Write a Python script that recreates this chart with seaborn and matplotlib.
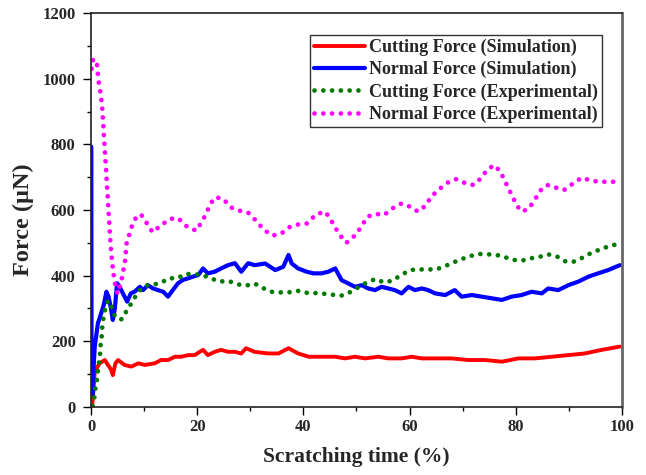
import matplotlib
matplotlib.use("Agg")
import matplotlib.pyplot as plt
import seaborn as sns
from matplotlib.ticker import MultipleLocator

# ---- data ----
cut_sim_x = [0.2, 0.5, 0.7, 1.6, 2.6, 3.2, 3.8, 4.1, 4.6, 5.1, 6.3, 7.6, 8.9, 10.1, 12.0, 13.2, 14.5,
             15.8, 17.0, 18.3, 19.5, 21.1, 22.0, 23.3, 24.5, 25.8, 27.1, 28.3, 29.2, 30.8, 33.4, 35.3,
             37.2, 39.0, 41.0, 43.4, 46.0, 47.8, 49.7, 51.6, 54.1, 56.0, 58.5, 60.4, 62.3, 64.8, 67.9,
             71.1, 74.2, 77.4, 80.5, 83.6, 86.8, 89.9, 93.0, 96.2, 99.6]
cut_sim_y = [0, 60, 108, 133, 143, 128, 113, 97, 133, 143, 128, 123, 133, 128, 133, 143, 143,
             153, 153, 158, 158, 174, 158, 168, 174, 168, 168, 163, 179, 168, 163, 163,
             179, 163, 153, 153, 153, 148, 153, 148, 153, 148, 148, 153, 148, 148, 148,
             143, 143, 138, 148, 148, 153, 158, 163, 174, 184]

norm_sim_x = [0.05, 0.1, 0.3, 0.45, 0.7, 1.3, 1.9, 2.4, 2.9, 3.3, 3.7, 4.1, 4.5, 4.9, 5.4, 6.0, 6.8,
              7.5, 8.2, 9.2, 9.8, 10.7, 11.7, 12.6, 13.6, 14.5, 15.4, 16.4, 17.3, 18.3, 19.2, 20.2,
              21.1, 22.0, 23.3, 24.5, 25.8, 27.1, 28.3, 29.6, 30.8, 32.8, 34.7, 36.2, 37.2, 37.8,
              39.0, 40.6, 41.9, 43.4, 44.7, 46.0, 47.2, 48.5, 49.7, 51.0, 52.2, 53.5, 54.7, 56.0,
              57.2, 58.5, 59.8, 61.0, 62.3, 63.5, 64.8, 66.7, 68.5, 69.8, 71.7, 73.6, 75.5, 77.4,
              79.2, 81.1, 83.0, 84.9, 86.1, 88.0, 89.9, 91.8, 93.7, 95.5, 97.4, 99.6]
norm_sim_y = [793, 100, 40, 110, 184, 255, 285, 311, 351, 336, 305, 265, 301, 377, 366, 346, 321,
              346, 351, 366, 356, 371, 361, 356, 351, 336, 356, 377, 387, 392, 397, 402,
              422, 407, 412, 422, 432, 438, 412, 438, 432, 437, 417, 427, 463, 437,
              422, 412, 407, 407, 412, 422, 386, 376, 366, 371, 361, 356, 366, 361,
              356, 346, 366, 356, 361, 356, 346, 341, 356, 336, 341, 336, 331, 326,
              336, 341, 351, 346, 361, 356, 371, 382, 397, 407, 417, 432]

cut_exp_x = [0.3, 0.6, 0.8, 1.1, 1.3, 1.5, 1.7, 1.8, 2.0, 2.1, 2.3, 2.6, 3.0, 3.4, 4.0, 4.6, 5.8,
             6.7, 7.8, 8.7, 10.0, 11.4, 13.0, 14.7, 16.3, 17.7, 19.3, 21.0, 22.5, 24.2, 25.9, 27.3,
             29.0, 30.8, 32.3, 33.9, 35.6, 37.2, 38.9, 40.5, 42.2, 43.8, 45.4, 47.1, 48.6, 50.3,
             51.9, 53.6, 55.2, 56.8, 58.4, 60.1, 61.6, 63.3, 65.0, 66.7, 68.2, 69.9, 71.5, 73.1,
             74.8, 76.4, 78.0, 79.6, 81.2, 82.9, 84.6, 86.1, 87.8, 89.4, 91.0, 92.6, 94.3, 95.9,
             97.6, 99.1]
cut_exp_y = [3, 26, 54, 82, 110, 136, 161, 188, 214, 240, 267, 293, 318, 324, 298, 272, 267,
             293, 321, 346, 369, 372, 377, 392, 392, 405, 405, 402, 392, 382, 384, 375,
             369, 376, 363, 351, 349, 349, 354, 348, 347, 345, 342, 339, 348, 364,
             379, 390, 379, 385, 402, 417, 419, 419, 419, 429, 440, 451, 460, 466,
             465, 463, 456, 448, 446, 453, 458, 465, 458, 443, 443, 455, 470, 480,
             490, 496]

norm_exp_x = [0.1, 0.4, 1.1, 1.4, 1.8, 2.1, 2.3, 2.5, 2.8, 3.1, 3.4, 3.7, 4.0, 4.4, 5.0, 5.8, 6.4,
              6.7, 7.2, 7.7, 8.5, 9.4, 10.5, 11.6, 13.2, 14.9, 16.4, 18.1, 19.8, 20.8, 21.7, 22.4,
              23.4, 24.9, 26.3, 27.9, 29.6, 31.1, 32.6, 34.2, 35.9, 37.5, 39.0, 40.7, 42.4, 44.1,
              45.0, 45.9, 46.9, 48.1, 49.9, 51.0, 52.1, 53.7, 55.2, 56.8, 58.5, 60.1, 61.6, 63.0,
              64.0, 65.4, 67.1, 68.7, 70.3, 72.0, 73.4, 74.6, 75.9, 77.0, 77.8, 78.6, 79.4, 80.2,
              81.2, 82.5, 83.6, 84.6, 85.9, 87.6, 89.1, 90.8, 92.4, 93.9, 95.6, 97.2, 98.9]
norm_exp_y = [1030, 1060, 1048, 995, 955, 915, 860, 808, 732, 651, 570, 491, 438, 384, 345, 392, 443,
              499, 524, 551, 578, 587, 560, 532, 554, 573, 575, 549, 537, 562, 589, 617,
              639, 634, 608, 598, 592, 567, 539, 522, 529, 549, 556, 559, 587, 595,
              575, 549, 523, 500, 525, 552, 580, 588, 585, 605, 620, 610, 595, 613,
              639, 661, 683, 694, 683, 676, 696, 722, 737, 719, 694, 666, 641, 613,
              595, 605, 632, 659, 676, 668, 661, 681, 698, 691, 686, 686, 686]

labels = ["Cutting Force (Simulation)", "Normal Force (Simulation)",
          "Cutting Force (Experimental)", "Normal Force (Experimental)"]
colors = ["#ff0000", "#0000ff", "#007a00", "#ff00ff"]

x_ticks = [0, 20, 40, 60, 80, 100]
y_ticks = [0, 200, 400, 600, 800, 1000, 1200]

# ---- style ----
sns.set_theme(style="white")
plt.rcParams["font.family"] = ["Liberation Serif", "DejaVu Serif"]
plt.rcParams["font.weight"] = "bold"

fig = plt.figure(figsize=(6.46, 4.75), dpi=100)
ax = fig.add_axes([0.1409, 0.1432, 0.8219, 0.8294])

sns.lineplot(x=cut_sim_x, y=cut_sim_y, ax=ax, color=colors[0], lw=2.8, sort=False,
             estimator=None, label=labels[0])
sns.lineplot(x=norm_sim_x, y=norm_sim_y, ax=ax, color=colors[1], lw=3.0, sort=False,
             estimator=None, label=labels[1])
dot = (0, (0.01, 1.85))
sns.lineplot(x=cut_exp_x, y=cut_exp_y, ax=ax, color=colors[2], lw=3.4, sort=False,
             estimator=None, label=labels[2], linestyle=dot, dash_capstyle="round")
sns.lineplot(x=norm_exp_x, y=norm_exp_y, ax=ax, color=colors[3], lw=3.4, sort=False,
             estimator=None, label=labels[3], linestyle=dot, dash_capstyle="round")

ax.set_xlim(0, 100)
ax.set_ylim(0, 1200)
ax.set_xticks(x_ticks)
ax.set_yticks(y_ticks)
ax.xaxis.set_minor_locator(MultipleLocator(10))
ax.yaxis.set_minor_locator(MultipleLocator(100))
ax.tick_params(axis="both", which="major", direction="out", length=6, width=1,
               color="black", labelsize=12, bottom=True, left=True, top=False, right=False)
ax.tick_params(axis="both", which="minor", direction="out", length=3.2, width=1,
               color="black", bottom=True, left=True, top=False, right=False)
ax.tick_params(axis="y", which="major", pad=5)
ax.tick_params(axis="x", which="major", pad=3)
for lab in ax.get_xticklabels() + ax.get_yticklabels():
    lab.set_fontweight("bold")
for side in ["left", "bottom", "top", "right"]:
    ax.spines[side].set_visible(True)
    ax.spines[side].set_color("#222222")
    ax.spines[side].set_linewidth(1.2)
ax.spines["right"].set_color("#666666")
ax.spines["right"].set_linewidth(2)

ax.set_xlabel("Scratching time (%)", fontsize=15.5, fontweight="bold", labelpad=8)
ax.set_ylabel("Force (\u00b5N)", fontsize=17.5, fontweight="bold")
ax.yaxis.set_label_coords(-0.108, 0.475)

leg = ax.legend(loc="upper right", bbox_to_anchor=(0.963, 0.945), borderaxespad=0,
                frameon=True, fancybox=False, edgecolor="#333333", framealpha=1,
                handlelength=2.8, handletextpad=0.25, labelspacing=0.28, borderpad=0.22,
                prop={"weight": "bold", "size": 13})
leg.get_frame().set_linewidth(1.0)

fig.savefig("out.png", dpi=100)
